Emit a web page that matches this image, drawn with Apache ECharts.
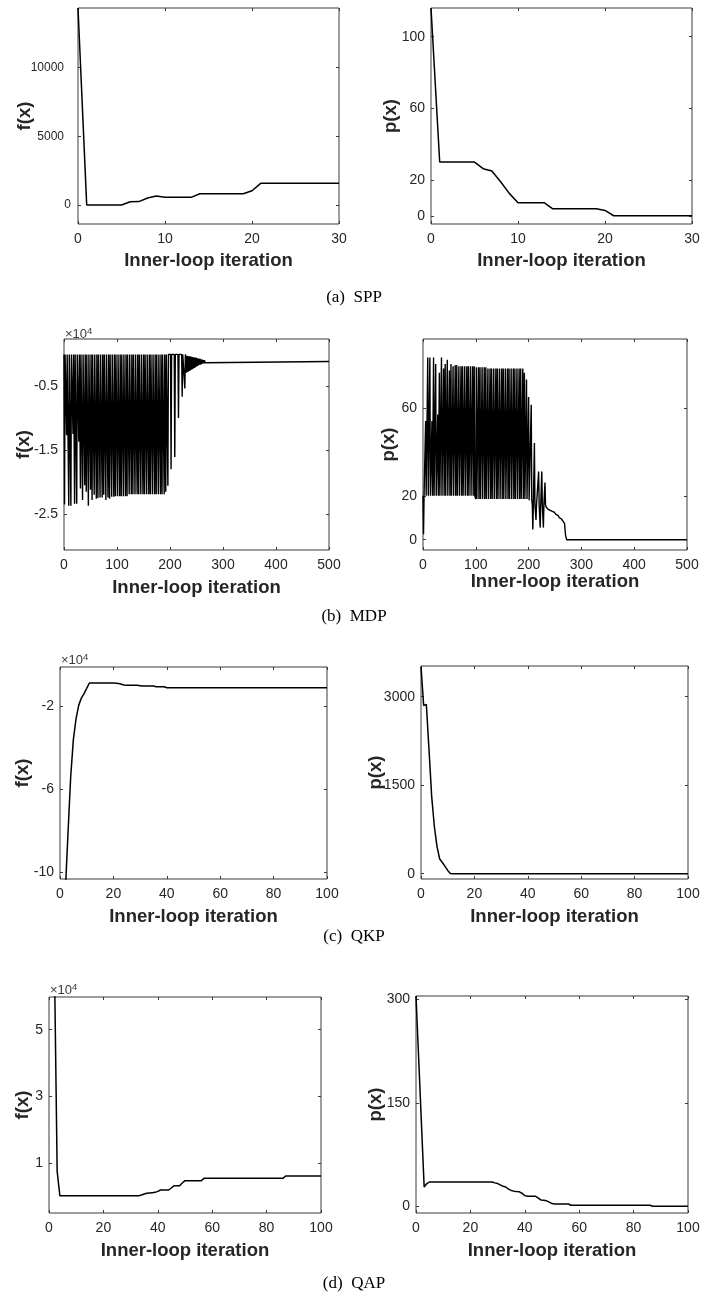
<!DOCTYPE html>
<html><head><meta charset="utf-8">
<script src="https://cdn.jsdelivr.net/npm/echarts@6/dist/echarts.min.js"></script>
<style>html,body{margin:0;padding:0;background:#fff;}#c{width:727px;height:1301px;}</style>
</head><body><div id="c"></div>
<script>
// ---------------- DATA ----------------
// (a) SPP, iterations 0..30
const sppF = [14340,0,0,0,0,0,240,250,510,650,560,560,560,560,825,825,825,825,825,825,1040,1580,1580,1580,1580,1580,1580,1580,1580,1580,1580];
const sppP = [116,30,30,30,30,30,26.3,25,19,12.5,7.3,7.3,7.3,7.3,3.9,3.9,3.9,3.9,3.9,3.9,3,0,0,0,0,0,0,0,0,0,0];

// (b) MDP f(x) (x10^4): oscillating spikes
const mdpFSpikeIter = [1,5,9,13,17,20,24,28,31,35,39,42,46,50,53,57,61,64,68,72,
  75,79,83,86,90,94,97,101,105,108,112,116,119,
  123,127,130,134,138,141,145,149,152,156,160,163,167,171,174,178,182,185,189,
  192,196,202,209,216,223,228];
const mdpFSpikeLow = [-2.35,-1.27,-2.37,-2.37,-1.25,-2.34,-2.34,-1.37,-2.1,-2.28,-2.05,-2.15,-2.37,-2.12,-2.28,-2.2,-2.26,-2.25,-2.24,-2.24,
  -2.2,-2.28,-2.24,-2.26,-2.23,-2.23,-2.22,-2.22,-2.22,-2.22,-2.22,-2.22,-2.22,
  -2.19,-2.19,-2.19,-2.19,-2.19,-2.19,-2.19,-2.19,-2.19,-2.19,-2.19,-2.19,-2.19,-2.19,-2.19,-2.19,-2.19,-2.19,-2.19,
  -2.15,-2.06,-1.8,-1.61,-1.0,-0.67,-0.54];
const mdpFTop = -0.01;
const mdpFTail = [[230,-0.3],[231,-0.03],[232,-0.29],[233,-0.03],[234,-0.28],[235,-0.04],[236,-0.27],[237,-0.04],[238,-0.26],[239,-0.04],
  [240,-0.25],[241,-0.05],[242,-0.24],[243,-0.05],[244,-0.23],[245,-0.06],[246,-0.22],[247,-0.06],[248,-0.21],[249,-0.06],
  [250,-0.2],[251,-0.07],[252,-0.19],[253,-0.07],[254,-0.18],[255,-0.08],[256,-0.17],[257,-0.08],[258,-0.17],[259,-0.09],
  [260,-0.16],[261,-0.09],[262,-0.15],[263,-0.1],[264,-0.15],[265,-0.1],[266,-0.14],[267,-0.11],[268,-0.13],[269,-0.12],
  [270,-0.12],[500,-0.12]];

// (b) MDP p(x)
const mdpPSpikeIter = [1,5,9,13,17,20,24,28,31,35,39,42,46,50,53,57,61,64,68,72,
  75,79,83,86,90,94,97,101,105,108,112,116,119,
  123,127,130,134,138,141,145,149,152,156,160,163,167,171,174,178,182,185,189,
  192,196,200,205,208,211,214,219,222,225,228,231];
const mdpPSpikeHigh = [2.5,54,83,83,54,83,80,57,76,83,78,80,82,77,80,79,79.5,79.5,79,79,
  79,79,79,79,79,79,79,78.5,78.5,78.5,78.5,78.5,78.5,
  78,78,78,78,78,78,78,78,78,78,78,78,78,78,78,78,78,78,78,
  76,73,65,61.5,4.7,44,9,31,5.5,31,5.5,26];
const mdpPSpikeBase = [20,20,20,20,20,20,20,20,20,20,20,20,20,20,20,20,20,20,20,20,
  20,20,20,20,20,20,20,18.5,18.5,18.5,18.5,18.5,18.5,
  18.5,18.5,18.5,18.5,18.5,18.5,18.5,18.5,18.5,18.5,18.5,18.5,18.5,18.5,18.5,18.5,18.5,18.5,18.5,
  18.5,18.5,18,18,16,16,16,16,16,16,16,16];
const mdpPTail = [[233,15],[236,14],[240,13.5],[244,13],[248,12.6],[252,11.5],[256,11],[258,10],[260,10.8],[262,9.5],
  [264,10],[265,8.5],[267,9],[268,7.4],[270,2],[272,0],[500,0]];

// (c) QKP, iterations 0..100
const qkpF = [null,null,-10.9,-8.1,-5.4,-3.6,-2.6,-1.95,-1.6,-1.38,-1.13,-0.87,
  -0.87,-0.87,-0.87,-0.87,-0.87,-0.87,-0.87,-0.87,-0.87,
  -0.88,-0.9,-0.93,-0.97,
  -0.98,-0.98,-0.98,-0.98,-0.98,
  -1.0,
  -1.02,-1.02,-1.02,-1.02,-1.02,
  -1.05,-1.05,-1.05,-1.05,
  -1.1,-1.1,-1.1,-1.1,-1.1,-1.1,-1.1,-1.1,-1.1,-1.1,-1.1,-1.1,-1.1,-1.1,-1.1,-1.1,-1.1,-1.1,-1.1,-1.1,
  -1.1,-1.1,-1.1,-1.1,-1.1,-1.1,-1.1,-1.1,-1.1,-1.1,-1.1,-1.1,-1.1,-1.1,-1.1,-1.1,-1.1,-1.1,-1.1,-1.1,
  -1.1,-1.1,-1.1,-1.1,-1.1,-1.1,-1.1,-1.1,-1.1,-1.1,-1.1,-1.1,-1.1,-1.1,-1.1,-1.1,-1.1,-1.1,-1.1,-1.1,-1.1];
const qkpP = [3510,2850,2870,2100,1310,800,460,250,190,124,56,5,
  0,0,0,0,0,0,0,0,0,0,0,0,0,0,0,0,0,0,0,0,0,0,0,0,0,0,0,0,0,0,0,0,0,0,0,0,0,0,
  0,0,0,0,0,0,0,0,0,0,0,0,0,0,0,0,0,0,0,0,0,0,0,0,0,0,0,0,0,0,0,0,0,0,0,0,0,0,
  0,0,0,0,0,0,0,0,0,0,0,0,0];

// (d) QAP, iterations 0..100
const qapF = [null,null,7,0.75,
  0.015,0.015,0.015,0.015,0.015,0.015,0.015,0.015,0.015,0.015,0.015,0.015,0.015,0.015,0.015,
  0.015,0.015,0.015,0.015,0.015,0.015,0.015,0.015,0.015,0.015,0.015,0.015,0.015,0.015,0.015,
  0.04,0.07,0.09,0.1,0.11,0.12,
  0.15,
  0.19,0.19,0.19,0.19,
  0.25,
  0.32,0.32,0.32,
  0.4,
  0.47,0.47,0.47,0.47,0.47,0.47,0.47,
  0.54,0.54,0.54,0.54,0.54,0.54,0.54,0.54,0.54,0.54,0.54,0.54,0.54,0.54,0.54,
  0.54,0.54,0.54,0.54,0.54,0.54,0.54,0.54,0.54,0.54,0.54,0.54,0.54,0.54,0.54,
  0.61,0.61,0.61,0.61,0.61,0.61,0.61,0.61,0.61,0.61,0.61,0.61,0.61,0.61];
const qapP = [305,213,120,28,33,
  35.3,35.3,35.3,35.3,35.3,35.3,35.3,35.3,35.3,35.3,35.3,35.3,35.3,35.3,35.3,35.3,35.3,35.3,35.3,35.3,35.3,35.3,35.3,35.3,
  34,33,31,29,28,25,23,22,21.5,21,19,
  15.5,
  14.5,14.5,14.5,14.5,
  12,9,8.7,8,6,4,
  3.4,3.4,3.4,3.4,3.4,3.4,
  1.5,1.5,1.5,1.5,1.5,1.5,1.5,1.5,1.5,1.5,1.5,1.5,1.5,1.5,1.5,
  1.5,1.5,1.5,1.5,1.5,1.5,1.5,1.5,1.5,1.5,1.5,1.5,1.5,1.5,1.5,
  0,0,0,0,0,0,0,0,0,0,0,0,0,0];

// axis tick labels
const yTicks = {
  sppF:[0,5000,10000], sppP:[0,20,60,100],
  mdpF:[-2.5,-1.5,-0.5], mdpP:[0,20,60],
  qkpF:[-10,-6,-2], qkpP:[0,1500,3000],
  qapF:[1,3,5], qapP:[0,150,300]
};
const captions = ['(a)  SPP','(b)  MDP','(c)  QKP','(d)  QAP'];
const xName = 'Inner-loop iteration';

// ---------------- BUILD ----------------
function indexed(arr){ return arr.map((v,i)=>[i,v]); }
function spikeLine(iters, vals, base){
  const pts=[];
  iters.forEach((k,i)=>{ const b = Array.isArray(base)?base[i]:base; pts.push([k-1,b],[k,vals[i]],[k+1,b]); });
  return pts;
}
const mdpFData = spikeLine(mdpFSpikeIter, mdpFSpikeLow, mdpFTop).concat(mdpFTail);
const mdpPData = spikeLine(mdpPSpikeIter, mdpPSpikeHigh, mdpPSpikeBase).concat(mdpPTail);

const FONT = 'Liberation Sans, Arial, sans-serif';
const TXT = '#262626';
const panels = [
  {g:[78,8,261,216], xmax:30, xint:10, ymin:-1380, ymax:14340, yt:yTicks.sppF, yname:'f(x)', ygap:44, xgap:27, data:indexed(sppF), lw:1.5, narrow:true},
  {g:[431,8,261,216], xmax:30, xint:10, ymin:-4.6, ymax:116, yt:yTicks.sppP, yname:'p(x)', ygap:31, xgap:27, data:indexed(sppP), lw:1.5},
  {g:[64,339,265,211], xmax:500, xint:100, ymin:-3.06, ymax:0.23, yt:yTicks.mdpF, yname:'f(x)', ygap:31, xgap:28, data:mdpFData, lw:1.4},
  {g:[423,339,264,211], xmax:500, xint:100, ymin:-4.7, ymax:91.4, yt:yTicks.mdpP, yname:'p(x)', ygap:25, xgap:22, data:mdpPData, lw:1.4},
  {g:[60,667,267,212], xmax:100, xint:20, ymin:-10.32, ymax:-0.1, yt:yTicks.qkpF, yname:'f(x)', ygap:28, xgap:28, data:indexed(qkpF), lw:1.5},
  {g:[421,666,267,213], xmax:100, xint:20, ymin:-90, ymax:3520, yt:yTicks.qkpP, yname:'p(x)', ygap:36, xgap:28, data:indexed(qkpP), lw:1.5},
  {g:[49,997,272,216], xmax:100, xint:20, ymin:-0.5, ymax:5.98, yt:yTicks.qapF, yname:'f(x)', ygap:17, xgap:28, data:indexed(qapF), lw:1.5},
  {g:[416,996,272,217], xmax:100, xint:20, ymin:-9.7, ymax:305, yt:yTicks.qapP, yname:'p(x)', ygap:31, xgap:28, data:indexed(qapP), lw:1.5}
];

const grid=[], xAxis=[], yAxis=[], series=[];
panels.forEach((p,i)=>{
  grid.push({left:p.g[0], top:p.g[1], width:p.g[2], height:p.g[3], show:true, borderColor:'#3a3a3a', borderWidth:1, backgroundColor:'#fff', containLabel:false});
  const tick = {show:true, inside:true, length:3, lineStyle:{color:'#3a3a3a', width:1}};
  const line = {show:false, onZero:false};
  xAxis.push({gridIndex:i, type:'value', min:0, max:p.xmax, interval:p.xint, position:'bottom',
    axisLine:line, axisTick:tick, splitLine:{show:false},
    axisLabel:{color:TXT, fontSize:14, fontFamily:FONT, margin:8, formatter:v=>String(v)},
    name:xName, nameLocation:'middle', nameGap:p.xgap, nameMoveOverlap:false,
    nameTextStyle:{color:TXT, fontSize:18.5, fontWeight:'bold', fontFamily:FONT}});
  xAxis.push({gridIndex:i, type:'value', min:0, max:p.xmax, interval:p.xint, position:'top',
    axisLine:line, axisTick:tick, axisLabel:{show:false}, splitLine:{show:false}});
  const yLabel = p.narrow
    ? {customValues:p.yt, color:TXT, fontSize:12, fontFamily:FONT, margin:7,
       formatter:v=> v===0 ? '{z|0}' : '{w|'+v+'}',
       rich:{z:{fontSize:12, color:TXT, fontFamily:FONT}, w:{fontSize:12, color:TXT, fontFamily:FONT, padding:[0,7,0,0]}}}
    : {customValues:p.yt, color:TXT, fontSize:14, fontFamily:FONT, margin:6, formatter:v=>String(v)};
  yAxis.push({gridIndex:i, type:'value', min:p.ymin, max:p.ymax, position:'left',
    axisLine:line, splitLine:{show:false},
    axisTick:Object.assign({customValues:p.yt}, tick),
    axisLabel:yLabel,
    name:p.yname, nameLocation:'middle', nameGap:p.ygap, nameMoveOverlap:false,
    nameTextStyle:{color:TXT, fontSize:18.5, fontWeight:'bold', fontFamily:FONT}});
  yAxis.push({gridIndex:i, type:'value', min:p.ymin, max:p.ymax, position:'right',
    axisLine:line, splitLine:{show:false},
    axisTick:Object.assign({customValues:p.yt}, tick), axisLabel:{show:false}});
  series.push({type:'line', xAxisIndex:2*i, yAxisIndex:2*i, data:p.data, showSymbol:false, symbol:'none',
    connectNulls:false, clip:true, lineStyle:{color:'#000', width:p.lw}, animation:false, silent:true});
});

function sci(x,y){
  return {type:'text', left:x, top:y, silent:true, style:{text:'{a|×10}{b|4}', fill:'#3a3a3a', font:'12px '+FONT,
    rich:{a:{fontSize:13, fill:'#3a3a3a', fontFamily:FONT}, b:{fontSize:9.5, fill:'#3a3a3a', fontFamily:FONT, verticalAlign:'top', padding:[0,0,7,0]}}}};
}
function cap(t,cx,cy){
  return {type:'text', x:cx, y:cy, silent:true, style:{text:t, fill:'#000', font:'17px "Liberation Serif", "Times New Roman", serif', textAlign:'center', textVerticalAlign:'middle'}};
}
const graphic = [
  sci(65,326), sci(61,652), sci(50,982),
  cap(captions[0],354,298), cap(captions[1],354,617), cap(captions[2],354,937), cap(captions[3],354,1284)
];

const chart = echarts.init(document.getElementById('c'), null, {renderer:'canvas'});
chart.setOption({animation:false, backgroundColor:'#fff', grid, xAxis, yAxis, series, graphic});
</script></body></html>
